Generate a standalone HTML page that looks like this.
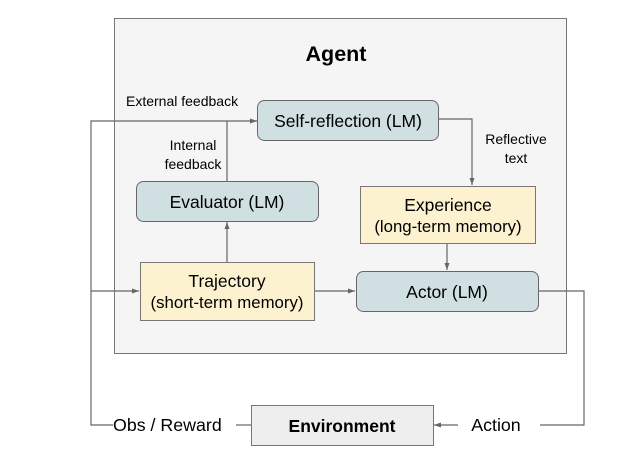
<!DOCTYPE html>
<html><head><style>
html,body{margin:0;padding:0;background:#fff;}
svg{display:block;font-family:"Liberation Sans",Arial,sans-serif;}
</style></head><body>
<svg width="632" height="464" viewBox="0 0 632 464" xmlns="http://www.w3.org/2000/svg">
<defs><marker id="a" markerWidth="8" markerHeight="6" refX="7" refY="3" orient="auto" markerUnits="userSpaceOnUse"><path d="M0,0.5 L7,3 L0,5.5z" fill="#666"/></marker></defs>
<rect x="114.5" y="18.5" width="452" height="335" fill="#f5f5f5" stroke="#777" stroke-width="1"/>
<text x="336" y="61" font-size="21.5" font-weight="bold" text-anchor="middle" fill="#000">Agent</text>
<g stroke="#666" stroke-width="1.2" fill="none">
<polyline points="113,425 91,425 91,121 257,121" marker-end="url(#a)"/>
<line x1="227" y1="181" x2="227" y2="121"/>
<line x1="91" y1="291" x2="139" y2="291" marker-end="url(#a)"/>
<line x1="227" y1="262" x2="227" y2="222" marker-end="url(#a)"/>
<line x1="314" y1="291" x2="355" y2="291" marker-end="url(#a)"/>
<polyline points="439,119 472,119 472,185" marker-end="url(#a)"/>
<line x1="447" y1="244" x2="447" y2="270" marker-end="url(#a)"/>
<polyline points="539,291 584,291 584,425 540,425"/>
<line x1="458" y1="425" x2="434" y2="425" marker-end="url(#a)"/>
<line x1="236" y1="425" x2="251" y2="425"/>
</g>
<rect x="257.5" y="100.5" width="181" height="40" rx="7" fill="#d0dfe1" stroke="#666"/>
<text x="348" y="127" font-size="17.5" text-anchor="middle">Self-reflection (LM)</text>
<rect x="136.5" y="181.5" width="182" height="40" rx="7" fill="#d0dfe1" stroke="#666"/>
<text x="227" y="208" font-size="17.5" text-anchor="middle">Evaluator (LM)</text>
<rect x="360.5" y="186.5" width="175" height="57" fill="#fdf2cf" stroke="#777"/>
<text x="448" y="211" font-size="17.5" text-anchor="middle">Experience</text>
<text x="448" y="232" font-size="16.8" text-anchor="middle">(long-term memory)</text>
<rect x="140.5" y="262.5" width="174" height="58" fill="#fdf2cf" stroke="#777"/>
<text x="227" y="287" font-size="17.5" text-anchor="middle">Trajectory</text>
<text x="227" y="308" font-size="16.8" text-anchor="middle">(short-term memory)</text>
<rect x="356.5" y="271.5" width="182" height="40" rx="7" fill="#d0dfe1" stroke="#666"/>
<text x="447" y="298" font-size="17.5" text-anchor="middle">Actor (LM)</text>
<rect x="251.5" y="405.5" width="182" height="40" fill="#eeeeee" stroke="#777"/>
<text x="342" y="432" font-size="17.5" font-weight="bold" text-anchor="middle">Environment</text>
<text x="126" y="106" font-size="14">External feedback</text>
<text x="193" y="150" font-size="14" text-anchor="middle">Internal</text>
<text x="193" y="169" font-size="14" text-anchor="middle">feedback</text>
<text x="516" y="144" font-size="14" text-anchor="middle">Reflective</text>
<text x="516" y="163" font-size="14" text-anchor="middle">text</text>
<text x="113" y="431" font-size="17.8">Obs / Reward</text>
<text x="496" y="431" font-size="17.8" text-anchor="middle">Action</text>
</svg>
</body></html>
